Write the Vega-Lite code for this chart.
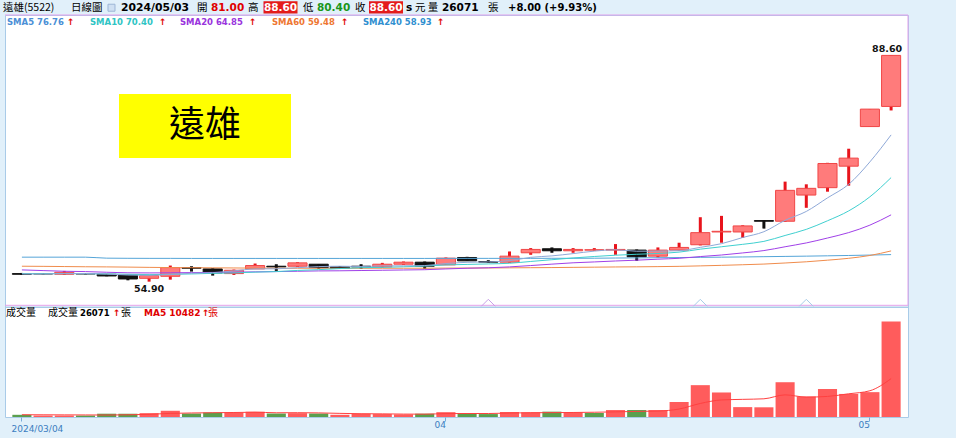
{
"$schema":"https://vega.github.io/schema/vega-lite/v6.json",
"width":903,"height":402,
"autosize":{"type":"none"},
"padding":{"left":5,"top":15,"right":48,"bottom":21},
"background":"#e1f0fa",
"config":{"view":{"fill":"white","stroke":"#a9cbe8","strokeWidth":1},"font":"DejaVu Sans"},
"datasets":{
"k":[
{"d":"2024-03-04","o":56.1,"h":56.2,"l":55.9,"c":56.0,"v":600,"vd":"down","s5":56.05,"s10":56.1,"s20":56.65,"s60":57.2,"s240":58.55,"vm":620},
{"d":"2024-03-05","o":56.1,"h":56.15,"l":56.0,"c":56.05,"v":400,"vd":"up","s5":56.05,"s10":56.1,"s20":56.55,"s60":57.18,"s240":58.55,"vm":600},
{"d":"2024-03-06","o":56.0,"h":56.5,"l":55.9,"c":56.3,"v":400,"vd":"up","s5":56.1,"s10":56.1,"s20":56.45,"s60":57.15,"s240":58.55,"vm":580},
{"d":"2024-03-07","o":56.1,"h":56.15,"l":56.0,"c":56.05,"v":400,"vd":"down","s5":56.1,"s10":56.1,"s20":56.4,"s60":57.12,"s240":58.55,"vm":560},
{"d":"2024-03-08","o":56.0,"h":56.05,"l":55.7,"c":55.75,"v":900,"vd":"down","s5":56.03,"s10":56.05,"s20":56.3,"s60":57.1,"s240":58.4,"vm":540},
{"d":"2024-03-11","o":55.9,"h":55.9,"l":55.1,"c":55.3,"v":900,"vd":"down","s5":55.89,"s10":56.0,"s20":56.22,"s60":57.07,"s240":58.38,"vm":600},
{"d":"2024-03-12","o":55.4,"h":55.85,"l":54.9,"c":55.8,"v":1050,"vd":"up","s5":55.84,"s10":55.95,"s20":56.2,"s60":57.03,"s240":58.37,"vm":730},
{"d":"2024-03-13","o":55.7,"h":57.3,"l":55.2,"c":57.0,"v":1700,"vd":"up","s5":55.98,"s10":56.0,"s20":56.22,"s60":57.0,"s240":58.37,"vm":990},
{"d":"2024-03-14","o":57.0,"h":57.2,"l":56.4,"c":56.9,"v":950,"vd":"down","s5":56.15,"s10":56.05,"s20":56.25,"s60":56.98,"s240":58.36,"vm":1100},
{"d":"2024-03-15","o":56.8,"h":56.9,"l":55.8,"c":56.2,"v":1230,"vd":"down","s5":56.24,"s10":56.14,"s20":56.28,"s60":56.96,"s240":58.36,"vm":1166},
{"d":"2024-03-18","o":56.1,"h":56.7,"l":55.9,"c":56.6,"v":1230,"vd":"up","s5":56.5,"s10":56.2,"s20":56.32,"s60":56.94,"s240":58.36,"vm":1232},
{"d":"2024-03-19","o":56.8,"h":57.6,"l":56.8,"c":57.3,"v":1420,"vd":"up","s5":56.8,"s10":56.32,"s20":56.36,"s60":56.92,"s240":58.36,"vm":1306},
{"d":"2024-03-20","o":57.2,"h":57.5,"l":56.5,"c":57.1,"v":950,"vd":"down","s5":56.82,"s10":56.4,"s20":56.4,"s60":56.9,"s240":58.36,"vm":1156},
{"d":"2024-03-21","o":57.2,"h":57.8,"l":57.1,"c":57.7,"v":1050,"vd":"up","s5":56.98,"s10":56.57,"s20":56.45,"s60":56.9,"s240":58.36,"vm":1176},
{"d":"2024-03-22","o":57.5,"h":57.5,"l":56.8,"c":57.0,"v":950,"vd":"down","s5":57.14,"s10":56.69,"s20":56.5,"s60":56.9,"s240":58.36,"vm":1120},
{"d":"2024-03-25","o":57.1,"h":57.2,"l":56.8,"c":56.9,"v":600,"vd":"up","s5":57.2,"s10":56.85,"s20":56.52,"s60":56.9,"s240":58.36,"vm":994},
{"d":"2024-03-26","o":57.2,"h":57.5,"l":56.8,"c":57.1,"v":900,"vd":"up","s5":57.16,"s10":56.98,"s20":56.56,"s60":56.9,"s240":58.36,"vm":890},
{"d":"2024-03-27","o":57.1,"h":57.7,"l":57.0,"c":57.5,"v":800,"vd":"up","s5":57.24,"s10":57.03,"s20":56.6,"s60":56.9,"s240":58.36,"vm":860},
{"d":"2024-03-28","o":57.5,"h":57.9,"l":57.4,"c":57.8,"v":700,"vd":"up","s5":57.26,"s10":57.12,"s20":56.64,"s60":56.9,"s240":58.36,"vm":790},
{"d":"2024-03-29","o":57.8,"h":57.9,"l":56.8,"c":57.2,"v":900,"vd":"down","s5":57.3,"s10":57.22,"s20":56.68,"s60":56.9,"s240":58.36,"vm":780},
{"d":"2024-04-01","o":57.4,"h":58.5,"l":57.4,"c":58.4,"v":1320,"vd":"up","s5":57.6,"s10":57.4,"s20":56.8,"s60":56.92,"s240":58.37,"vm":924},
{"d":"2024-04-02","o":58.5,"h":58.6,"l":58.0,"c":58.0,"v":1050,"vd":"down","s5":57.78,"s10":57.47,"s20":56.9,"s60":56.93,"s240":58.37,"vm":954},
{"d":"2024-04-03","o":57.9,"h":58.1,"l":57.7,"c":57.8,"v":800,"vd":"down","s5":57.84,"s10":57.54,"s20":56.97,"s60":56.94,"s240":58.37,"vm":954},
{"d":"2024-04-08","o":57.8,"h":59.4,"l":57.7,"c":58.7,"v":1370,"vd":"up","s5":58.02,"s10":57.64,"s20":57.1,"s60":56.96,"s240":58.37,"vm":1088},
{"d":"2024-04-09","o":59.2,"h":59.9,"l":58.9,"c":59.7,"v":1280,"vd":"up","s5":58.52,"s10":57.91,"s20":57.3,"s60":56.98,"s240":58.37,"vm":1164},
{"d":"2024-04-10","o":59.8,"h":60.0,"l":59.2,"c":59.5,"v":1460,"vd":"down","s5":58.74,"s10":58.17,"s20":57.51,"s60":57.0,"s240":58.38,"vm":1192},
{"d":"2024-04-11","o":59.5,"h":59.9,"l":59.2,"c":59.7,"v":1280,"vd":"up","s5":59.08,"s10":58.43,"s20":57.71,"s60":57.03,"s240":58.38,"vm":1238},
{"d":"2024-04-12","o":59.6,"h":59.9,"l":59.5,"c":59.65,"v":1100,"vd":"down","s5":59.45,"s10":58.65,"s20":57.84,"s60":57.06,"s240":58.39,"vm":1298},
{"d":"2024-04-15","o":59.6,"h":60.5,"l":58.9,"c":59.7,"v":1900,"vd":"up","s5":59.65,"s10":58.84,"s20":57.98,"s60":57.09,"s240":58.42,"vm":1404},
{"d":"2024-04-16","o":59.6,"h":59.7,"l":58.0,"c":58.6,"v":1900,"vd":"down","s5":59.43,"s10":58.98,"s20":58.1,"s60":57.11,"s240":58.44,"vm":1528},
{"d":"2024-04-17","o":58.7,"h":60.0,"l":58.5,"c":59.6,"v":1900,"vd":"up","s5":59.45,"s10":59.1,"s20":58.25,"s60":57.14,"s240":58.47,"vm":1616},
{"d":"2024-04-18","o":59.6,"h":60.7,"l":59.5,"c":60.0,"v":4100,"vd":"up","s5":59.51,"s10":59.3,"s20":58.38,"s60":57.18,"s240":58.49,"vm":2180},
{"d":"2024-04-19","o":60.4,"h":64.5,"l":60.3,"c":62.2,"v":8700,"vd":"up","s5":60.01,"s10":59.74,"s20":58.64,"s60":57.25,"s240":58.52,"vm":3700},
{"d":"2024-04-22","o":62.3,"h":64.7,"l":60.7,"c":62.4,"v":6700,"vd":"up","s5":60.56,"s10":60.1,"s20":58.87,"s60":57.33,"s240":58.55,"vm":4660},
{"d":"2024-04-23","o":62.3,"h":63.3,"l":61.4,"c":63.2,"v":2700,"vd":"up","s5":61.48,"s10":60.46,"s20":59.18,"s60":57.42,"s240":58.58,"vm":4820},
{"d":"2024-04-24","o":64.0,"h":64.0,"l":62.8,"c":63.9,"v":2650,"vd":"up","s5":62.34,"s10":60.9,"s20":59.53,"s60":57.52,"s240":58.62,"vm":4970},
{"d":"2024-04-25","o":63.9,"h":69.8,"l":63.8,"c":68.5,"v":9500,"vd":"up","s5":64.04,"s10":61.78,"s20":60.1,"s60":57.68,"s240":58.66,"vm":6050},
{"d":"2024-04-26","o":67.8,"h":69.4,"l":65.9,"c":68.8,"v":5600,"vd":"up","s5":65.36,"s10":62.69,"s20":60.67,"s60":57.86,"s240":58.7,"vm":5430},
{"d":"2024-04-29","o":68.9,"h":72.6,"l":68.3,"c":72.5,"v":7650,"vd":"up","s5":67.38,"s10":63.97,"s20":61.4,"s60":58.1,"s240":58.75,"vm":5620},
{"d":"2024-04-30","o":72.1,"h":74.7,"l":69.2,"c":73.3,"v":6300,"vd":"up","s5":69.4,"s10":65.44,"s20":62.21,"s60":58.38,"s240":58.8,"vm":6340},
{"d":"2024-05-02","o":78.0,"h":80.6,"l":78.0,"c":80.6,"v":6789,"vd":"up","s5":72.74,"s10":67.54,"s20":63.32,"s60":58.8,"s240":58.86,"vm":7168},
{"d":"2024-05-03","o":81.0,"h":88.6,"l":80.4,"c":88.6,"v":26071,"vd":"up","s5":76.76,"s10":70.4,"s20":64.85,"s60":59.48,"s240":58.93,"vm":10482}
],
"sig":[{"d":"2024-04-03","k":"a"},{"d":"2024-04-19","k":"b"},{"d":"2024-04-26","k":"b"}]
},
"data":{"name":"k"},
"layer":[
{"layer":[
{"data":{"values":[{}]},"mark":{"type":"rule","color":"#e3a1ea","strokeWidth":1},"encoding":{"y":{"datum":94.617,"type":"quantitative","scale":{"domain":[34.743,94.617],"nice":false,"zero":false},"axis":null}}},
{"data":{"values":[{}]},"mark":{"type":"rule","color":"#e3a1ea","strokeWidth":1},"encoding":{"y":{"datum":51.38,"type":"quantitative","scale":{"domain":[34.743,94.617],"nice":false,"zero":false},"axis":null}}},
{"data":{"values":[{}]},"mark":{"type":"rule","color":"#a9cbe8","strokeWidth":1.5},"encoding":{"y":{"datum":51.09,"type":"quantitative","scale":{"domain":[34.743,94.617],"nice":false,"zero":false},"axis":null}}},
{"data":{"values":[{}]},"mark":{"type":"rule","color":"#e3a1ea","strokeWidth":1},"encoding":{"x":{"value":"width"},"y":{"datum":94.617,"type":"quantitative","scale":{"domain":[34.743,94.617],"nice":false,"zero":false},"axis":null},"y2":{"datum":51.38}}},
{"data":{"values":[{}]},"mark":{"type":"point","shape":"M-1,-0.372L1,-0.372L1,0.372L-1,0.372Z","size":29584,"filled":true,"fill":"#ffff00","opacity":1,"strokeWidth":0,"xOffset":-7.7},"encoding":{"x":{"datum":"2024-03-15","type":"ordinal"},"y":{"datum":78.09,"type":"quantitative","scale":{"domain":[34.743,94.617],"nice":false,"zero":false},"axis":null}}},
{"data":{"values":[{}]},"mark":{"type":"text","text":"遠雄","font":"Noto Sans CJK TC","fontSize":36,"align":"center","baseline":"middle","dx":-7.7,"color":"#000"},"encoding":{"x":{"datum":"2024-03-15","type":"ordinal"},"y":{"datum":78.09,"type":"quantitative","scale":{"domain":[34.743,94.617],"nice":false,"zero":false},"axis":null}}},
{"data":{"values":[{}]},"mark":{"type":"point","shape":"square","size":49,"filled":true,"fill":"#cfe0f2","stroke":"#9db6d6","strokeWidth":1,"opacity":1,"xOffset":89.6},"encoding":{"x":{"datum":"2024-03-04","type":"ordinal"},"y":{"datum":95.7,"type":"quantitative","scale":{"domain":[34.743,94.617],"nice":false,"zero":false},"axis":null}}},
{"data":{"values":[{}]},"mark":{"type":"point","shape":"M-1,-0.36L1,-0.36L1,0.36L-1,0.36Z","size":1156,"filled":true,"fill":"#e41b1b","opacity":1,"strokeWidth":0,"xOffset":258.6},"encoding":{"x":{"datum":"2024-03-04","type":"ordinal"},"y":{"datum":95.75,"type":"quantitative","scale":{"domain":[34.743,94.617],"nice":false,"zero":false},"axis":null}}},
{"data":{"values":[{}]},"mark":{"type":"point","shape":"M-1,-0.36L1,-0.36L1,0.36L-1,0.36Z","size":1156,"filled":true,"fill":"#e41b1b","opacity":1,"strokeWidth":0,"xOffset":364.1},"encoding":{"x":{"datum":"2024-03-04","type":"ordinal"},"y":{"datum":95.75,"type":"quantitative","scale":{"domain":[34.743,94.617],"nice":false,"zero":false},"axis":null}}},
{"data":{"values":[{}]},"mark":{"type":"text","text":"遠雄(5522)","font":"Noto Sans CJK TC","fontSize":10.5,"align":"left","baseline":"middle","dx":-18.9,"color":"#000"},"encoding":{"x":{"datum":"2024-03-04","type":"ordinal"},"y":{"datum":95.6,"type":"quantitative","scale":{"domain":[34.743,94.617],"nice":false,"zero":false},"axis":null}}},
{"data":{"values":[{}]},"mark":{"type":"text","text":"日線圖","font":"Noto Sans CJK TC","fontSize":10.5,"align":"left","baseline":"middle","dx":49.1,"color":"#000"},"encoding":{"x":{"datum":"2024-03-04","type":"ordinal"},"y":{"datum":95.6,"type":"quantitative","scale":{"domain":[34.743,94.617],"nice":false,"zero":false},"axis":null}}},
{"data":{"values":[{}]},"mark":{"type":"text","text":"2024/05/03","font":"DejaVu Sans","fontWeight":"bold","fontSize":10.8,"align":"left","baseline":"middle","dx":99.1,"color":"#000"},"encoding":{"x":{"datum":"2024-03-04","type":"ordinal"},"y":{"datum":95.6,"type":"quantitative","scale":{"domain":[34.743,94.617],"nice":false,"zero":false},"axis":null}}},
{"data":{"values":[{}]},"mark":{"type":"text","text":"開","font":"Noto Sans CJK TC","fontSize":10.5,"align":"left","baseline":"middle","dx":175.1,"color":"#000"},"encoding":{"x":{"datum":"2024-03-04","type":"ordinal"},"y":{"datum":95.6,"type":"quantitative","scale":{"domain":[34.743,94.617],"nice":false,"zero":false},"axis":null}}},
{"data":{"values":[{}]},"mark":{"type":"text","text":"81.00","font":"DejaVu Sans","fontWeight":"bold","fontSize":10.5,"align":"left","baseline":"middle","dx":189.1,"color":"#e00000"},"encoding":{"x":{"datum":"2024-03-04","type":"ordinal"},"y":{"datum":95.6,"type":"quantitative","scale":{"domain":[34.743,94.617],"nice":false,"zero":false},"axis":null}}},
{"data":{"values":[{}]},"mark":{"type":"text","text":"高","font":"Noto Sans CJK TC","fontSize":10.5,"align":"left","baseline":"middle","dx":226.1,"color":"#000"},"encoding":{"x":{"datum":"2024-03-04","type":"ordinal"},"y":{"datum":95.6,"type":"quantitative","scale":{"domain":[34.743,94.617],"nice":false,"zero":false},"axis":null}}},
{"data":{"values":[{}]},"mark":{"type":"text","text":"88.60","font":"DejaVu Sans","fontWeight":"bold","fontSize":10.5,"align":"center","baseline":"middle","dx":258.6,"color":"#ffffff"},"encoding":{"x":{"datum":"2024-03-04","type":"ordinal"},"y":{"datum":95.6,"type":"quantitative","scale":{"domain":[34.743,94.617],"nice":false,"zero":false},"axis":null}}},
{"data":{"values":[{}]},"mark":{"type":"text","text":"低","font":"Noto Sans CJK TC","fontSize":10.5,"align":"left","baseline":"middle","dx":281.1,"color":"#000"},"encoding":{"x":{"datum":"2024-03-04","type":"ordinal"},"y":{"datum":95.6,"type":"quantitative","scale":{"domain":[34.743,94.617],"nice":false,"zero":false},"axis":null}}},
{"data":{"values":[{}]},"mark":{"type":"text","text":"80.40","font":"DejaVu Sans","fontWeight":"bold","fontSize":10.5,"align":"left","baseline":"middle","dx":295.1,"color":"#1a961a"},"encoding":{"x":{"datum":"2024-03-04","type":"ordinal"},"y":{"datum":95.6,"type":"quantitative","scale":{"domain":[34.743,94.617],"nice":false,"zero":false},"axis":null}}},
{"data":{"values":[{}]},"mark":{"type":"text","text":"收","font":"Noto Sans CJK TC","fontSize":10.5,"align":"left","baseline":"middle","dx":333.1,"color":"#000"},"encoding":{"x":{"datum":"2024-03-04","type":"ordinal"},"y":{"datum":95.6,"type":"quantitative","scale":{"domain":[34.743,94.617],"nice":false,"zero":false},"axis":null}}},
{"data":{"values":[{}]},"mark":{"type":"text","text":"88.60","font":"DejaVu Sans","fontWeight":"bold","fontSize":10.5,"align":"center","baseline":"middle","dx":364.1,"color":"#ffffff"},"encoding":{"x":{"datum":"2024-03-04","type":"ordinal"},"y":{"datum":95.6,"type":"quantitative","scale":{"domain":[34.743,94.617],"nice":false,"zero":false},"axis":null}}},
{"data":{"values":[{}]},"mark":{"type":"text","text":"s","font":"DejaVu Sans","fontWeight":"bold","fontSize":10.5,"align":"left","baseline":"middle","dx":384.1,"color":"#000"},"encoding":{"x":{"datum":"2024-03-04","type":"ordinal"},"y":{"datum":95.6,"type":"quantitative","scale":{"domain":[34.743,94.617],"nice":false,"zero":false},"axis":null}}},
{"data":{"values":[{}]},"mark":{"type":"text","text":"元  量","font":"Noto Sans CJK TC","fontSize":10.5,"align":"left","baseline":"middle","dx":393.1,"color":"#000"},"encoding":{"x":{"datum":"2024-03-04","type":"ordinal"},"y":{"datum":95.6,"type":"quantitative","scale":{"domain":[34.743,94.617],"nice":false,"zero":false},"axis":null}}},
{"data":{"values":[{}]},"mark":{"type":"text","text":"26071","font":"DejaVu Sans","fontWeight":"bold","fontSize":10.5,"align":"left","baseline":"middle","dx":420.1,"color":"#000"},"encoding":{"x":{"datum":"2024-03-04","type":"ordinal"},"y":{"datum":95.6,"type":"quantitative","scale":{"domain":[34.743,94.617],"nice":false,"zero":false},"axis":null}}},
{"data":{"values":[{}]},"mark":{"type":"text","text":"張","font":"Noto Sans CJK TC","fontSize":10.5,"align":"left","baseline":"middle","dx":466.1,"color":"#000"},"encoding":{"x":{"datum":"2024-03-04","type":"ordinal"},"y":{"datum":95.6,"type":"quantitative","scale":{"domain":[34.743,94.617],"nice":false,"zero":false},"axis":null}}},
{"data":{"values":[{}]},"mark":{"type":"text","text":"+8.00 (+9.93%)","font":"DejaVu Sans","fontWeight":"bold","fontSize":10,"align":"left","baseline":"middle","dx":486.1,"color":"#000"},"encoding":{"x":{"datum":"2024-03-04","type":"ordinal"},"y":{"datum":95.6,"type":"quantitative","scale":{"domain":[34.743,94.617],"nice":false,"zero":false},"axis":null}}},
{"data":{"values":[{}]},"mark":{"type":"text","text":"SMA5 76.76","font":"DejaVu Sans","fontWeight":"bold","fontSize":8.5,"align":"left","baseline":"middle","dx":-14.9,"color":"#4b8fd6"},"encoding":{"x":{"datum":"2024-03-04","type":"ordinal"},"y":{"datum":93.57,"type":"quantitative","scale":{"domain":[34.743,94.617],"nice":false,"zero":false},"axis":null}}},
{"data":{"values":[{}]},"mark":{"type":"text","text":"SMA10 70.40","font":"DejaVu Sans","fontWeight":"bold","fontSize":8.5,"align":"left","baseline":"middle","dx":68.1,"color":"#2ec4c4"},"encoding":{"x":{"datum":"2024-03-04","type":"ordinal"},"y":{"datum":93.57,"type":"quantitative","scale":{"domain":[34.743,94.617],"nice":false,"zero":false},"axis":null}}},
{"data":{"values":[{}]},"mark":{"type":"text","text":"SMA20 64.85","font":"DejaVu Sans","fontWeight":"bold","fontSize":8.5,"align":"left","baseline":"middle","dx":158.1,"color":"#9933dd"},"encoding":{"x":{"datum":"2024-03-04","type":"ordinal"},"y":{"datum":93.57,"type":"quantitative","scale":{"domain":[34.743,94.617],"nice":false,"zero":false},"axis":null}}},
{"data":{"values":[{}]},"mark":{"type":"text","text":"SMA60 59.48","font":"DejaVu Sans","fontWeight":"bold","fontSize":8.5,"align":"left","baseline":"middle","dx":250.1,"color":"#ee7733"},"encoding":{"x":{"datum":"2024-03-04","type":"ordinal"},"y":{"datum":93.57,"type":"quantitative","scale":{"domain":[34.743,94.617],"nice":false,"zero":false},"axis":null}}},
{"data":{"values":[{}]},"mark":{"type":"text","text":"SMA240 58.93","font":"DejaVu Sans","fontWeight":"bold","fontSize":8.5,"align":"left","baseline":"middle","dx":341.1,"color":"#2f8fd0"},"encoding":{"x":{"datum":"2024-03-04","type":"ordinal"},"y":{"datum":93.57,"type":"quantitative","scale":{"domain":[34.743,94.617],"nice":false,"zero":false},"axis":null}}},
{"data":{"values":[{}]},"mark":{"type":"text","text":"↑","font":"DejaVu Sans","fontWeight":"bold","fontSize":9,"align":"left","baseline":"middle","dx":45.1,"color":"#e00000"},"encoding":{"x":{"datum":"2024-03-04","type":"ordinal"},"y":{"datum":93.57,"type":"quantitative","scale":{"domain":[34.743,94.617],"nice":false,"zero":false},"axis":null}}},
{"data":{"values":[{}]},"mark":{"type":"text","text":"↑","font":"DejaVu Sans","fontWeight":"bold","fontSize":9,"align":"left","baseline":"middle","dx":137.1,"color":"#e00000"},"encoding":{"x":{"datum":"2024-03-04","type":"ordinal"},"y":{"datum":93.57,"type":"quantitative","scale":{"domain":[34.743,94.617],"nice":false,"zero":false},"axis":null}}},
{"data":{"values":[{}]},"mark":{"type":"text","text":"↑","font":"DejaVu Sans","fontWeight":"bold","fontSize":9,"align":"left","baseline":"middle","dx":227.1,"color":"#e00000"},"encoding":{"x":{"datum":"2024-03-04","type":"ordinal"},"y":{"datum":93.57,"type":"quantitative","scale":{"domain":[34.743,94.617],"nice":false,"zero":false},"axis":null}}},
{"data":{"values":[{}]},"mark":{"type":"text","text":"↑","font":"DejaVu Sans","fontWeight":"bold","fontSize":9,"align":"left","baseline":"middle","dx":319.1,"color":"#e00000"},"encoding":{"x":{"datum":"2024-03-04","type":"ordinal"},"y":{"datum":93.57,"type":"quantitative","scale":{"domain":[34.743,94.617],"nice":false,"zero":false},"axis":null}}},
{"data":{"values":[{}]},"mark":{"type":"text","text":"↑","font":"DejaVu Sans","fontWeight":"bold","fontSize":9,"align":"left","baseline":"middle","dx":415.1,"color":"#e00000"},"encoding":{"x":{"datum":"2024-03-04","type":"ordinal"},"y":{"datum":93.57,"type":"quantitative","scale":{"domain":[34.743,94.617],"nice":false,"zero":false},"axis":null}}},
{"mark":{"type":"rule","strokeWidth":3},"encoding":{
 "x":{"field":"d","type":"ordinal","scale":{"paddingInner":0.1,"paddingOuter":0.347},"axis":{"orient":"bottom","values":["2024-03-04","2024-04-01","2024-05-02"],"labelExpr":"datum.value == '2024-03-04' ? '' : slice(datum.value, 5, 7)","title":null,"domain":false,"grid":false,"ticks":true,"tickSize":4,"tickColor":"#79aad8","labelColor":"#3b7dc0","labelFontSize":9,"labelFont":"DejaVu Sans","labelPadding":3,"labelAngle":0}},
 "y":{"field":"l","type":"quantitative","scale":{"domain":[34.743,94.617],"nice":false,"zero":false},"axis":{"orient":"right","values":[55,60,65,70,75,80,85,90],"format":".1f","title":null,"domain":false,"ticks":false,"grid":false,"labelPadding":3,"labelFontSize":9,"labelFontWeight":"bold","labelColor":"#111111","labelFont":"DejaVu Sans"}},
 "y2":{"field":"h"},
 "color":{"condition":{"test":"datum.c > datum.o","value":"#e8141c"},"value":"#111111"}}},
{"mark":{"type":"bar","strokeWidth":1},"encoding":{
 "x":{"field":"d","type":"ordinal"},
 "y":{"field":"o","type":"quantitative","scale":{"domain":[34.743,94.617],"nice":false,"zero":false},"axis":null},
 "y2":{"field":"c"},
 "fill":{"condition":{"test":"datum.c > datum.o","value":"#ff7b7b"},"value":"#111111"},
 "stroke":{"condition":{"test":"datum.c > datum.o","value":"#f04646"},"value":"#111111"}}},
{"mark":{"type":"line","color":"#55a5d8","strokeWidth":1,"interpolate":"monotone"},"encoding":{"x":{"field":"d","type":"ordinal"},"y":{"field":"s240","type":"quantitative","scale":{"domain":[34.743,94.617],"nice":false,"zero":false},"axis":null}}},
{"mark":{"type":"line","color":"#f08c4c","strokeWidth":1,"interpolate":"monotone"},"encoding":{"x":{"field":"d","type":"ordinal"},"y":{"field":"s60","type":"quantitative","scale":{"domain":[34.743,94.617],"nice":false,"zero":false},"axis":null}}},
{"mark":{"type":"line","color":"#a040e8","strokeWidth":1,"interpolate":"monotone"},"encoding":{"x":{"field":"d","type":"ordinal"},"y":{"field":"s20","type":"quantitative","scale":{"domain":[34.743,94.617],"nice":false,"zero":false},"axis":null}}},
{"mark":{"type":"line","color":"#40d0d0","strokeWidth":1,"interpolate":"monotone"},"encoding":{"x":{"field":"d","type":"ordinal"},"y":{"field":"s10","type":"quantitative","scale":{"domain":[34.743,94.617],"nice":false,"zero":false},"axis":null}}},
{"mark":{"type":"line","color":"#8fa9d8","strokeWidth":1,"interpolate":"monotone"},"encoding":{"x":{"field":"d","type":"ordinal"},"y":{"field":"s5","type":"quantitative","scale":{"domain":[34.743,94.617],"nice":false,"zero":false},"axis":null}}},
{"transform":[{"filter":"datum.d == '2024-05-03'"}],"mark":{"type":"text","font":"DejaVu Sans","fontWeight":"bold","fontSize":9.5,"align":"center","baseline":"middle","dx":-4,"dy":-6,"color":"#111111"},"encoding":{"x":{"field":"d","type":"ordinal"},"y":{"field":"h","type":"quantitative","scale":{"domain":[34.743,94.617],"nice":false,"zero":false},"axis":null},"text":{"field":"h","format":".2f"}}},
{"transform":[{"filter":"datum.d == '2024-03-12'"}],"mark":{"type":"text","font":"DejaVu Sans","fontWeight":"bold","fontSize":9.5,"align":"center","baseline":"middle","dy":7,"color":"#111111"},"encoding":{"x":{"field":"d","type":"ordinal"},"y":{"field":"l","type":"quantitative","scale":{"domain":[34.743,94.617],"nice":false,"zero":false},"axis":null},"text":{"field":"l","format":".2f"}}},
{"data":{"name":"sig"},"mark":{"type":"point","shape":"M-1,0.5L0,-0.5L1,0.5","size":196,"filled":false,"strokeWidth":1,"opacity":1},"encoding":{"x":{"field":"d","type":"ordinal"},"y":{"datum":51.75,"type":"quantitative","scale":{"domain":[34.743,94.617],"nice":false,"zero":false},"axis":null},"stroke":{"field":"k","type":"nominal","scale":{"domain":["a","b"],"range":["#c9a0e8","#a8cce8"]},"legend":null}}}
]},
{"layer":[
{"mark":{"type":"bar"},"encoding":{
 "x":{"field":"d","type":"ordinal"},
 "y":{"field":"v","type":"quantitative","scale":{"domain":[0,109836],"nice":false,"zero":false},"axis":{"orient":"right","values":[10000,20000],"labelExpr":"datum.value/1000 + 'K'","title":null,"domain":false,"ticks":false,"grid":false,"labelPadding":3,"labelFontSize":9,"labelFontWeight":"bold","labelColor":"#111111","labelFont":"DejaVu Sans"}},
 "color":{"field":"vd","type":"nominal","scale":{"domain":["up","down"],"range":["#ff5c5c","#5b9f4e"]},"legend":null}}},
{"mark":{"type":"line","color":"#ff4040","strokeWidth":1,"interpolate":"monotone"},"encoding":{"x":{"field":"d","type":"ordinal"},"y":{"field":"vm","type":"quantitative","scale":{"domain":[0,109836],"nice":false,"zero":false},"axis":null}}},
{"data":{"values":[{}]},"mark":{"type":"text","text":"2024/03/04","font":"DejaVu Sans","fontSize":9,"align":"center","baseline":"middle","dx":15.5,"color":"#3b7dc0"},"encoding":{"x":{"datum":"2024-03-04","type":"ordinal"},"y":{"datum":-3300,"type":"quantitative","scale":{"domain":[0,109836],"nice":false,"zero":false},"axis":null}}},
{"data":{"values":[{}]},"mark":{"type":"text","text":"成交量","font":"Noto Sans CJK TC","fontSize":10,"align":"left","baseline":"middle","dx":-15.9,"color":"#000"},"encoding":{"x":{"datum":"2024-03-04","type":"ordinal"},"y":{"datum":28415,"type":"quantitative","scale":{"domain":[0,109836],"nice":false,"zero":false},"axis":null}}},
{"data":{"values":[{}]},"mark":{"type":"text","text":"成交量","font":"Noto Sans CJK TC","fontSize":10,"align":"left","baseline":"middle","dx":26.1,"color":"#000"},"encoding":{"x":{"datum":"2024-03-04","type":"ordinal"},"y":{"datum":28415,"type":"quantitative","scale":{"domain":[0,109836],"nice":false,"zero":false},"axis":null}}},
{"data":{"values":[{}]},"mark":{"type":"text","text":"26071","font":"DejaVu Sans","fontWeight":"bold","fontSize":8.5,"align":"left","baseline":"middle","dx":58.1,"color":"#000"},"encoding":{"x":{"datum":"2024-03-04","type":"ordinal"},"y":{"datum":28415,"type":"quantitative","scale":{"domain":[0,109836],"nice":false,"zero":false},"axis":null}}},
{"data":{"values":[{}]},"mark":{"type":"text","text":"↑","font":"DejaVu Sans","fontWeight":"bold","fontSize":9,"align":"left","baseline":"middle","dx":91.1,"color":"#e00000"},"encoding":{"x":{"datum":"2024-03-04","type":"ordinal"},"y":{"datum":28415,"type":"quantitative","scale":{"domain":[0,109836],"nice":false,"zero":false},"axis":null}}},
{"data":{"values":[{}]},"mark":{"type":"text","text":"張","font":"Noto Sans CJK TC","fontSize":10,"align":"left","baseline":"middle","dx":99.1,"color":"#000"},"encoding":{"x":{"datum":"2024-03-04","type":"ordinal"},"y":{"datum":28415,"type":"quantitative","scale":{"domain":[0,109836],"nice":false,"zero":false},"axis":null}}},
{"data":{"values":[{}]},"mark":{"type":"text","text":"MA5 10482","font":"DejaVu Sans","fontWeight":"bold","fontSize":9,"align":"left","baseline":"middle","dx":122.1,"color":"#e00000"},"encoding":{"x":{"datum":"2024-03-04","type":"ordinal"},"y":{"datum":28415,"type":"quantitative","scale":{"domain":[0,109836],"nice":false,"zero":false},"axis":null}}},
{"data":{"values":[{}]},"mark":{"type":"text","text":"↑","font":"DejaVu Sans","fontWeight":"bold","fontSize":9,"align":"left","baseline":"middle","dx":180.1,"color":"#e00000"},"encoding":{"x":{"datum":"2024-03-04","type":"ordinal"},"y":{"datum":28415,"type":"quantitative","scale":{"domain":[0,109836],"nice":false,"zero":false},"axis":null}}},
{"data":{"values":[{}]},"mark":{"type":"text","text":"張","font":"Noto Sans CJK TC","fontSize":10,"align":"left","baseline":"middle","dx":186.1,"color":"#e00000"},"encoding":{"x":{"datum":"2024-03-04","type":"ordinal"},"y":{"datum":28415,"type":"quantitative","scale":{"domain":[0,109836],"nice":false,"zero":false},"axis":null}}}
]}
],
"resolve":{"scale":{"y":"independent"},"axis":{"y":"independent"}}
}
